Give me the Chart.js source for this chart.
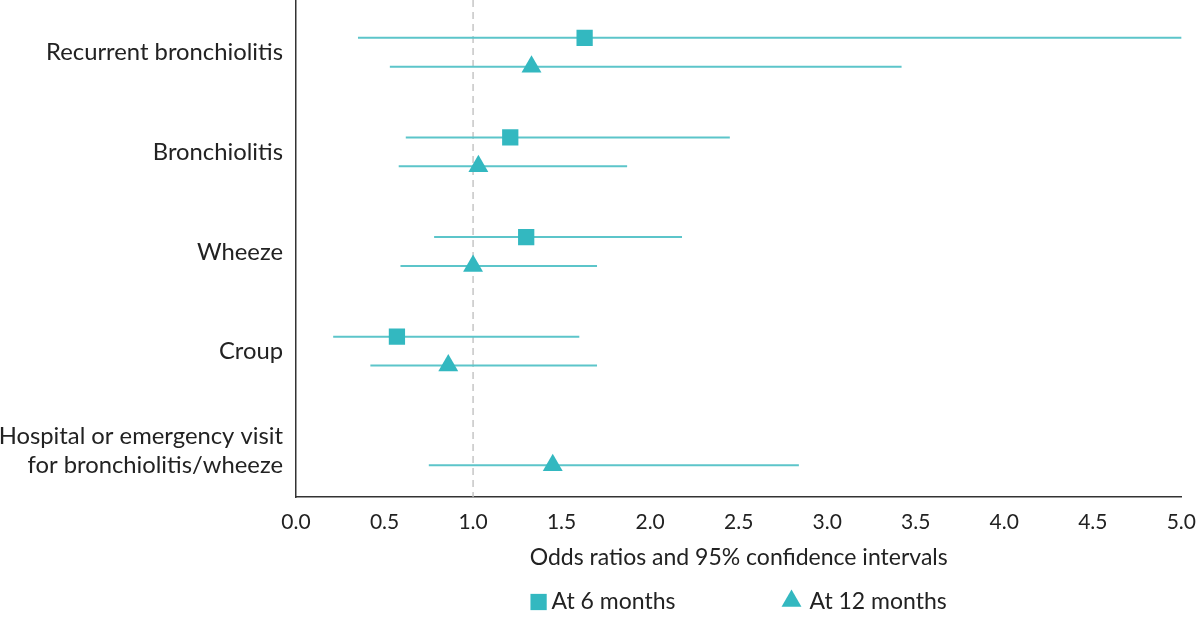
<!DOCTYPE html>
<html>
<head>
<meta charset="utf-8">
<script src="https://cdn.jsdelivr.net/npm/chart.js@4/dist/chart.umd.min.js"></script>
<style>
  html, body { margin: 0; padding: 0; background: #fff; }
  #wrap { width: 1200px; height: 619px; }
</style>
</head>
<body>
<div id="wrap"><canvas id="forest"></canvas></div>
<script>
// Categories (top to bottom)
const categories = [
  "Recurrent bronchiolitis",
  "Bronchiolitis",
  "Wheeze",
  "Croup",
  ["Hospital or emergency visit", "for bronchiolitis/wheeze"],
];

// Odds ratios and 95% CI at 6 months (null = not reported)
const or6 = [1.63, 1.21, 1.30, 0.57, null];
const low6 = [0.35, 0.62, 0.78, 0.21, null];
const high6 = [5.0, 2.45, 2.18, 1.60, null];

// Odds ratios and 95% CI at 12 months
const or12 = [1.33, 1.03, 1.00, 0.86, 1.45];
const low12 = [0.53, 0.58, 0.59, 0.42, 0.75];
const high12 = [3.42, 1.87, 1.70, 1.70, 2.84];

const xTicks = [0, 0.5, 1, 1.5, 2, 2.5, 3, 3.5, 4, 4.5, 5];
const seriesNames = ["At 6 months", "At 12 months"];

// Colors
const colors = {
  marker: "#33b8c0",
  line: "#5cc5ca",
  refLine: "#bdbdbd",
  axis: "#333333",
  text: "#222222",
};

const fontFamily = "Lato";

// offset of each series from category centre
const offset6 = -0.15;
const offset12 = 0.14;

function toPoints(values, offset) {
  const pts = [];
  values.forEach((v, i) => {
    if (v !== null) pts.push({ x: v, y: i + offset });
  });
  return pts;
}

// Draws the confidence interval lines and the reference line at OR = 1
const intervalPlugin = {
  id: "intervals",
  beforeDatasetsDraw(chart) {
    const { ctx, scales, chartArea } = chart;
    const xs = scales.x;
    const ys = scales.y;

    // reference line
    ctx.save();
    ctx.strokeStyle = colors.refLine;
    ctx.lineWidth = 1.3;
    ctx.setLineDash([7, 5]);
    const xr = xs.getPixelForValue(1);
    ctx.beginPath();
    ctx.moveTo(xr, chartArea.top);
    ctx.lineTo(xr, chartArea.bottom);
    ctx.stroke();
    ctx.restore();

    ctx.save();
    ctx.strokeStyle = colors.line;
    ctx.lineWidth = 2;
    const drawSet = (lows, highs, offset) => {
      lows.forEach((lo, i) => {
        if (lo === null) return;
        const y = ys.getPixelForValue(i + offset);
        ctx.beginPath();
        ctx.moveTo(xs.getPixelForValue(lo), y);
        ctx.lineTo(xs.getPixelForValue(highs[i]), y);
        ctx.stroke();
      });
    };
    drawSet(low6, high6, offset6);
    drawSet(low12, high12, offset12);
    ctx.restore();
  },
};

// Legend under the axis title, centred on the plot area
const legendPlugin = {
  id: "bottomLegend",
  afterDraw(chart) {
    const { ctx, chartArea } = chart;
    const y = chart.height - 17;
    const gap = 106;
    ctx.save();
    ctx.font = "23px " + fontFamily;
    ctx.fillStyle = colors.text;
    ctx.textBaseline = "middle";
    const w1 = ctx.measureText(seriesNames[0]).width;
    const w2 = ctx.measureText(seriesNames[1]).width;
    const item1 = 16 + 5 + w1;
    const item2 = 20 + 8 + w2;
    let x = (chartArea.left + chartArea.right) / 2 - (item1 + gap + item2) / 2;

    ctx.fillStyle = colors.marker;
    ctx.strokeStyle = colors.marker;
    Chart.helpers.drawPoint(ctx, { pointStyle: "rect", radius: 11.5, rotation: 0, borderWidth: 0 }, x + 8, y);
    ctx.fillStyle = colors.text;
    ctx.fillText(seriesNames[0], x + 21, y);

    x += item1 + gap;
    ctx.fillStyle = colors.marker;
    Chart.helpers.drawPoint(ctx, { pointStyle: "triangle", radius: 11.5, rotation: 0, borderWidth: 0 }, x + 10, y - 1);
    ctx.fillStyle = colors.text;
    ctx.fillText(seriesNames[1], x + 28, y);
    ctx.restore();
  },
};

const ctx = document.getElementById("forest").getContext("2d");

const data = {
  datasets: [
    {
      label: seriesNames[0],
      data: toPoints(or6, offset6),
      pointStyle: "rect",
      pointRadius: 11.5,
      pointHoverRadius: 11.5,
      backgroundColor: colors.marker,
      borderColor: colors.marker,
      borderWidth: 0,
    },
    {
      label: seriesNames[1],
      data: toPoints(or12, offset12),
      pointStyle: "triangle",
      pointRadius: 11.5,
      pointHoverRadius: 11.5,
      backgroundColor: colors.marker,
      borderColor: colors.marker,
      borderWidth: 0,
    },
  ],
};

const options = {
  responsive: true,
  maintainAspectRatio: false,
  animation: false,
  layout: {
    autoPadding: false,
    padding: { top: 0, right: 18, left: 0, bottom: 40 },
  },
  scales: {
    x: {
      type: "linear",
      min: 0,
      max: 5,
      afterBuildTicks: (axis) => {
        axis.ticks = xTicks.map((v) => ({ value: v }));
      },
      afterFit: (axis) => {
        axis.height = 82;
      },
      grid: {
        display: false,
        drawTicks: true,
        tickLength: 9,
        tickColor: colors.axis,
        tickWidth: 1.5,
      },
      border: { display: true, color: colors.axis, width: 1.5 },
      ticks: {
        color: colors.text,
        font: { family: fontFamily, size: 21 },
        padding: 4,
        maxRotation: 0,
        callback: (v) => Number(v).toFixed(1),
      },
      title: {
        display: true,
        text: "Odds ratios and 95% confidence intervals",
        color: colors.text,
        font: { family: fontFamily, size: 23 },
        padding: { top: 8, bottom: 8 },
      },
    },
    y: {
      type: "linear",
      reverse: true,
      min: -0.53,
      max: 4.46,
      afterBuildTicks: (axis) => {
        axis.ticks = categories.map((c, i) => ({ value: i }));
      },
      afterFit: (axis) => {
        axis.width = 296;
        axis.paddingTop = 0;
        axis.paddingBottom = 0;
      },
      grid: {
        display: false,
        drawTicks: true,
        tickLength: 8,
        tickColor: colors.axis,
        tickWidth: 1.5,
      },
      border: { display: true, color: colors.axis, width: 1.5 },
      ticks: {
        color: colors.text,
        font: { family: fontFamily, size: 23.8, lineHeight: 1.22 },
        padding: 5,
        autoSkip: false,
        callback: (v) => categories[Math.round(v)],
      },
    },
  },
  plugins: {
    legend: { display: false },
    tooltip: { enabled: false },
  },
};

new Chart(ctx, {
  type: "scatter",
  data: data,
  options: options,
  plugins: [intervalPlugin, legendPlugin],
});
</script>
</body>
</html>
